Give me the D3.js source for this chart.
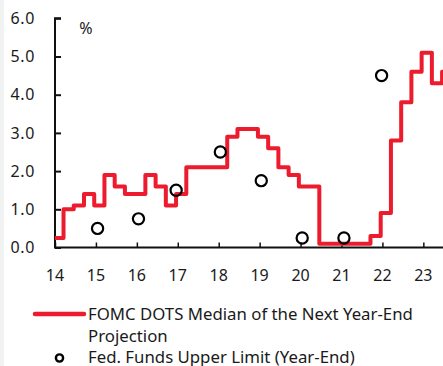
<!DOCTYPE html>
<html>
<head>
<meta charset="utf-8">
<script src="https://cdn.jsdelivr.net/npm/d3@7"></script>
<style>
  html, body { margin: 0; padding: 0; background: #ffffff; }
  svg { display: block; }
  text { font-family: "Noto Sans", sans-serif; fill: #1a1a1a; }
</style>
</head>
<body>
<div id="chart"></div>
<script>
// FOMC SEP release (year, month) and median projection for the following year-end (%)
const sepDates = [
  [2013, 12], [2014, 3], [2014, 6], [2014, 9], [2014, 12],
  [2015, 3], [2015, 6], [2015, 9], [2015, 12],
  [2016, 3], [2016, 6], [2016, 9], [2016, 12],
  [2017, 3], [2017, 6], [2017, 9], [2017, 12],
  [2018, 3], [2018, 6], [2018, 9], [2018, 12],
  [2019, 3], [2019, 6], [2019, 9], [2019, 12],
  [2020, 6], [2020, 9], [2020, 12],
  [2021, 3], [2021, 6], [2021, 9], [2021, 12],
  [2022, 3], [2022, 6], [2022, 9], [2022, 12],
  [2023, 3], [2023, 6]
];
const medianNextYear = [
  0.25, 1.0, 1.1, 1.4, 1.1,
  1.9, 1.6, 1.4, 1.4,
  1.9, 1.6, 1.1, 1.4,
  2.1, 2.1, 2.1, 2.1,
  2.9, 3.1, 3.1, 2.9,
  2.6, 2.1, 1.9, 1.6,
  0.1, 0.1, 0.1,
  0.1, 0.1, 0.3, 0.9,
  2.8, 3.8, 4.6, 5.1,
  4.3, 4.6
];

// Fed funds target upper limit at year-end (%), plotted by year label
const fundsYears = [15.04, 16.04, 16.96, 18.04, 19.04, 20.04, 21.06, 21.98];
const fundsUpper = [0.5, 0.75, 1.5, 2.5, 1.75, 0.25, 0.25, 4.5];

const xTicks = [14, 15, 16, 17, 18, 19, 20, 21, 22, 23];
const yTicks = [0, 1, 2, 3, 4, 5, 6];

const legendLabels = ["FOMC DOTS Median of the Next Year-End", "Projection", "Fed. Funds Upper Limit (Year-End)"];

const W = 443, H = 366;
const RED = "#ec1c2e";

const svg = d3.select("#chart").append("svg")
  .attr("width", W).attr("height", H);

// faint panel edge on the far left
svg.append("rect").attr("x", 0).attr("y", 0).attr("width", 4).attr("height", H).attr("fill", "#f1f3f3");

const x = d3.scaleLinear().domain([14, 23.5]).range([55, 443.8]);
const y = d3.scaleLinear().domain([0, 6]).range([247.5, 18.3]);

// fractional year for each release (mid-month), two-digit style
const toYear = ([yr, m]) => (yr - 2000) + (m - 0.5) / 12;
const steps = sepDates.map((d, i) => ({ t: toYear(d), v: medianNextYear[i] }));
steps.push({ t: x.domain()[1], v: medianNextYear[medianNextYear.length - 1] });

svg.append("defs").append("clipPath").attr("id", "plot")
  .append("rect").attr("x", x(14)).attr("y", 0).attr("width", W - x(14)).attr("height", 260);

// y axis
const yAxis = d3.axisRight(y).tickValues(yTicks).tickSize(6).tickFormat("");
const gy = svg.append("g").attr("transform", `translate(${x(14)},0)`).call(yAxis);
gy.select(".domain").attr("stroke", "#111").attr("stroke-width", 2).attr("d", `M6,${y(6)}H0V${y(0)}`);
gy.selectAll(".tick line").attr("stroke", "#111").attr("stroke-width", 2);

svg.append("g").selectAll("text").data(yTicks).join("text")
  .attr("x", 35).attr("y", d => y(d)).attr("dy", "0.36em")
  .attr("text-anchor", "end").attr("font-size", 16).attr("letter-spacing", 0.6)
  .text(d => d.toFixed(1));

// x axis
const xAxis = d3.axisTop(x).tickValues(xTicks).tickSize(5).tickFormat("");
const gx = svg.append("g").attr("transform", `translate(0,${y(0)})`).call(xAxis);
gx.select(".domain").attr("stroke", "#111").attr("stroke-width", 2).attr("d", `M${x(14) - 1},0H${W}`);
gx.selectAll(".tick line").attr("stroke", "#111").attr("stroke-width", 1.5);

svg.append("g").selectAll("text").data(xTicks).join("text")
  .attr("x", d => x(d)).attr("y", 280.5)
  .attr("text-anchor", "middle").attr("font-size", 16)
  .text(d => d);

svg.append("text").attr("x", 86).attr("y", 34).attr("text-anchor", "middle")
  .attr("font-size", 16).text("%");

// median projection step line
const line = d3.line().x(d => x(d.t)).y(d => y(d.v)).curve(d3.curveStepAfter);
svg.append("path").datum(steps)
  .attr("clip-path", "url(#plot)")
  .attr("fill", "none").attr("stroke", RED).attr("stroke-width", 4)
  .attr("stroke-linejoin", "round")
  .attr("d", line);

// year-end fed funds upper limit
svg.append("g").selectAll("circle").data(fundsYears).join("circle")
  .attr("cx", d => x(d)).attr("cy", (d, i) => y(fundsUpper[i]))
  .attr("r", 5.6).attr("fill", "none").attr("stroke", "#000").attr("stroke-width", 2.2);

// legend
const lg = svg.append("g");
lg.append("line").attr("x1", 35).attr("x2", 84).attr("y1", 314).attr("y2", 314)
  .attr("stroke", RED).attr("stroke-width", 4.5).attr("stroke-linecap", "round");
lg.append("text").attr("x", 88).attr("y", 320).attr("font-size", 16.8).text(legendLabels[0]);
lg.append("text").attr("x", 88).attr("y", 342).attr("font-size", 16.8).text(legendLabels[1]);
lg.append("circle").attr("cx", 59.5).attr("cy", 358).attr("r", 3.6)
  .attr("fill", "none").attr("stroke", "#000").attr("stroke-width", 2.4);
lg.append("text").attr("x", 88).attr("y", 362.5).attr("font-size", 16.8).text(legendLabels[2]);
</script>
</body>
</html>
